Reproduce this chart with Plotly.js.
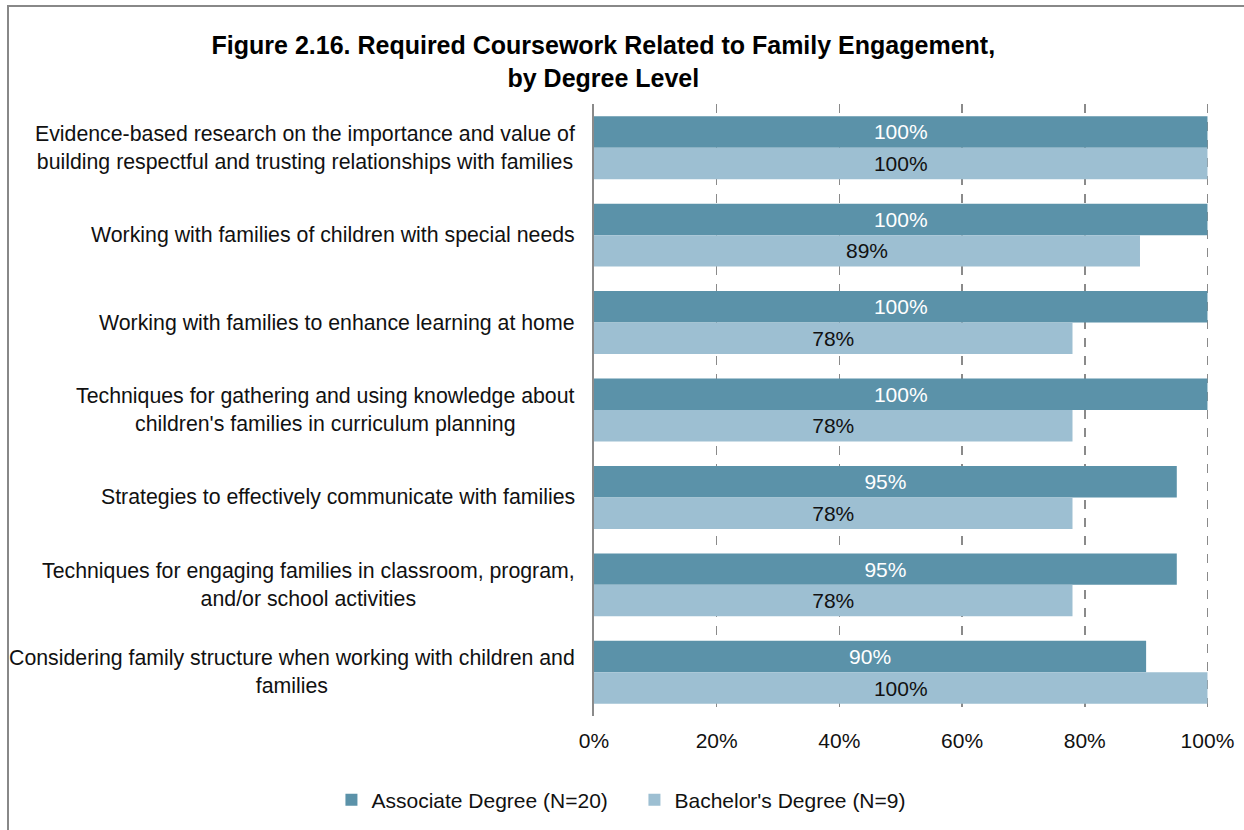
<!DOCTYPE html>
<html>
<head>
<meta charset="utf-8">
<script src="https://cdn.plot.ly/plotly-3.0.1.min.js"></script>
<style>
  html, body { margin: 0; padding: 0; background: #fff; }
  #chart { width: 1244px; height: 830px; position: relative; }
  #frame { position: absolute; left: 7px; top: 5px; right: 0; bottom: 0;
           border-top: 2px solid #888; border-left: 2px solid #888; pointer-events: none; }
</style>
</head>
<body>
<div id="chart"></div>
<div id="frame"></div>
<script>
const categories = [
  "Evidence-based research on the importance and value of<br>building respectful and trusting relationships with families",
  "Working with families of children with special needs",
  "Working with families to enhance learning at home",
  "Techniques for gathering and using knowledge about<br>children's families in curriculum planning",
  "Strategies to effectively communicate with families",
  "Techniques for engaging families in classroom, program,<br>and/or school activities",
  "Considering family structure when working with children and<br>families"
];
const associateValues = [100, 100, 100, 100, 95, 95, 90];
const bachelorValues  = [100, 89, 78, 78, 78, 78, 100];
const seriesNames = ["Associate Degree (N=20)", "Bachelor's Degree (N=9)"];
const tickValues = [0, 20, 40, 60, 80, 100];
const tickLabels = ["0%", "20%", "40%", "60%", "80%", "100%"];

const font = "Liberation Sans, Arial, sans-serif";

const traces = [
  {
    type: "bar", orientation: "h", name: seriesNames[0],
    y: categories, x: associateValues,
    marker: { color: "#5B92A9" },
    text: associateValues.map(v => v + "%"),
    textposition: "inside", insidetextanchor: "middle", textangle: 0,
    constraintext: "none",
    textfont: { family: font, size: 21, color: "#ffffff" },
    hoverinfo: "x+name"
  },
  {
    type: "bar", orientation: "h", name: seriesNames[1],
    y: categories, x: bachelorValues,
    marker: { color: "#9DBFD2" },
    text: bachelorValues.map(v => v + "%"),
    textposition: "inside", insidetextanchor: "middle", textangle: 0,
    constraintext: "none",
    textfont: { family: font, size: 21, color: "#111111" },
    hoverinfo: "x+name"
  }
];

const annotations = categories.map(c => ({
  text: c, xref: "paper", yref: "y", x: 0, y: c,
  xanchor: "right", yanchor: "middle", xshift: -17, align: "center",
  showarrow: false, font: { family: font, size: 21.3, color: "#111111" }
}));

const layout = {
  width: 1244, height: 830,
  margin: { l: 594, r: 35, t: 104, b: 114 },
  paper_bgcolor: "#ffffff", plot_bgcolor: "#ffffff",
  font: { family: font, size: 21, color: "#111111" },
  title: {
    text: "<b>Figure 2.16. Required Coursework Related to Family Engagement,<br>by Degree Level</b>",
    font: { family: font, size: 25, color: "#000000" },
    x: 0.485, xanchor: "center", xref: "container",
    y: 1 - 54 / 830, yanchor: "middle", yref: "container"
  },
  barmode: "group", bargap: 0.28, bargroupgap: 0,
  xaxis: {
    range: [0, 100.25], tickmode: "array", tickvals: tickValues, ticktext: tickLabels,
    showgrid: true, gridcolor: "#8a8a8a", gridwidth: 1.5, griddash: "dash",
    zeroline: false, showline: false, ticks: "", ticklabelstandoff: 10,
    tickfont: { family: font, size: 21, color: "#111111" },
    fixedrange: true
  },
  yaxis: {
    autorange: "reversed", showticklabels: false, ticks: "",
    showline: true, linecolor: "#8a8a8a", linewidth: 2,
    showgrid: false, zeroline: false, fixedrange: true
  },
  annotations: annotations,
  showlegend: true,
  legend: {
    orientation: "h", x: 0.51, xanchor: "center", xref: "container",
    y: 30 / 830, yanchor: "middle", yref: "container",
    font: { family: font, size: 21, color: "#111111" },
    itemwidth: 30, traceorder: "normal", entrywidth: 258
  }
};

Plotly.newPlot("chart", traces, layout, { displayModeBar: false, staticPlot: true });
</script>
</body>
</html>
